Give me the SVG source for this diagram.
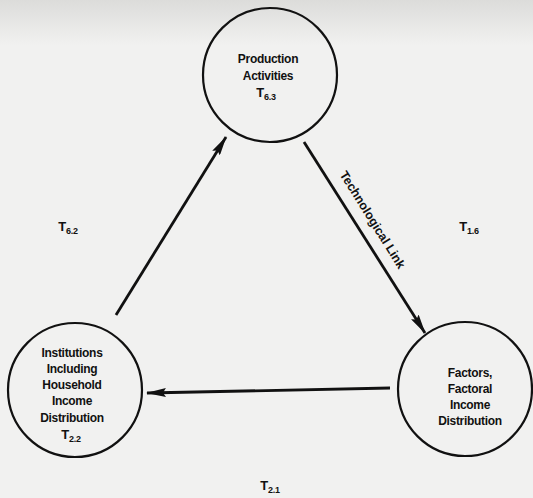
<svg xmlns="http://www.w3.org/2000/svg" width="533" height="498" viewBox="0 0 533 498">
<defs>
<style>
.node{fill:none;stroke:#111;stroke-width:2.2}
.t{font-family:"Liberation Sans",Arial,sans-serif;font-size:12px;font-weight:bold;fill:#111;text-anchor:middle;letter-spacing:-0.3px}
.lab{font-size:13px}
.s{font-size:9px}
.edge{stroke:#111;stroke-width:2.8;fill:none}
</style>
<linearGradient id="bg" x1="0" y1="0" x2="0" y2="1">
<stop offset="0" stop-color="#dcdcda"/>
<stop offset="1" stop-color="#f1f1f0"/>
</linearGradient>
<marker id="ah" viewBox="0 0 20 9" refX="19" refY="4.5" markerWidth="20" markerHeight="9" markerUnits="userSpaceOnUse" orient="auto">
<path d="M0,0 L20,4.5 L0,9 L3,4.5 Z" fill="#111"/>
</marker>
</defs>
<rect width="533" height="498" fill="#f1f1f0"/>
<rect width="533" height="45" fill="url(#bg)"/>
<g id="production">
<circle class="node" cx="270" cy="75" r="67"/>
<text class="t" x="268" y="63">Production</text>
<text class="t" x="268" y="80">Activities</text>
<text class="t lab" x="266" y="97">T<tspan class="s" dy="3">6.3</tspan></text>
</g>
<g id="institutions">
<circle class="node" cx="75" cy="390" r="67"/>
<text class="t" x="72" y="357">Institutions</text>
<text class="t" x="72" y="373">Including</text>
<text class="t" x="72" y="389">Household</text>
<text class="t" x="72" y="405">Income</text>
<text class="t" x="72" y="422">Distribution</text>
<text class="t lab" x="71" y="439">T<tspan class="s" dy="3">2.2</tspan></text>
</g>
<g id="factors">
<circle class="node" cx="465" cy="389" r="67"/>
<text class="t" x="470" y="377">Factors,</text>
<text class="t" x="470" y="393">Factoral</text>
<text class="t" x="470" y="409">Income</text>
<text class="t" x="470" y="425">Distribution</text>
</g>
<g id="connectors">
<line class="edge" x1="116" y1="315" x2="226" y2="137" marker-end="url(#ah)"/>
<line class="edge" x1="304" y1="142" x2="425" y2="333" marker-end="url(#ah)"/>
<line class="edge" x1="390" y1="388" x2="147" y2="393" marker-end="url(#ah)"/>
<text class="t" style="font-size:12.5px;letter-spacing:0" transform="translate(369,222) rotate(58)">Technological Link</text>
</g>
<g id="labels">
<text class="t lab" x="68" y="231">T<tspan class="s" dy="3">6.2</tspan></text>
<text class="t lab" x="469" y="231">T<tspan class="s" dy="3">1.6</tspan></text>
<text class="t lab" x="270" y="490">T<tspan class="s" dy="3">2.1</tspan></text>
</g>
</svg>
